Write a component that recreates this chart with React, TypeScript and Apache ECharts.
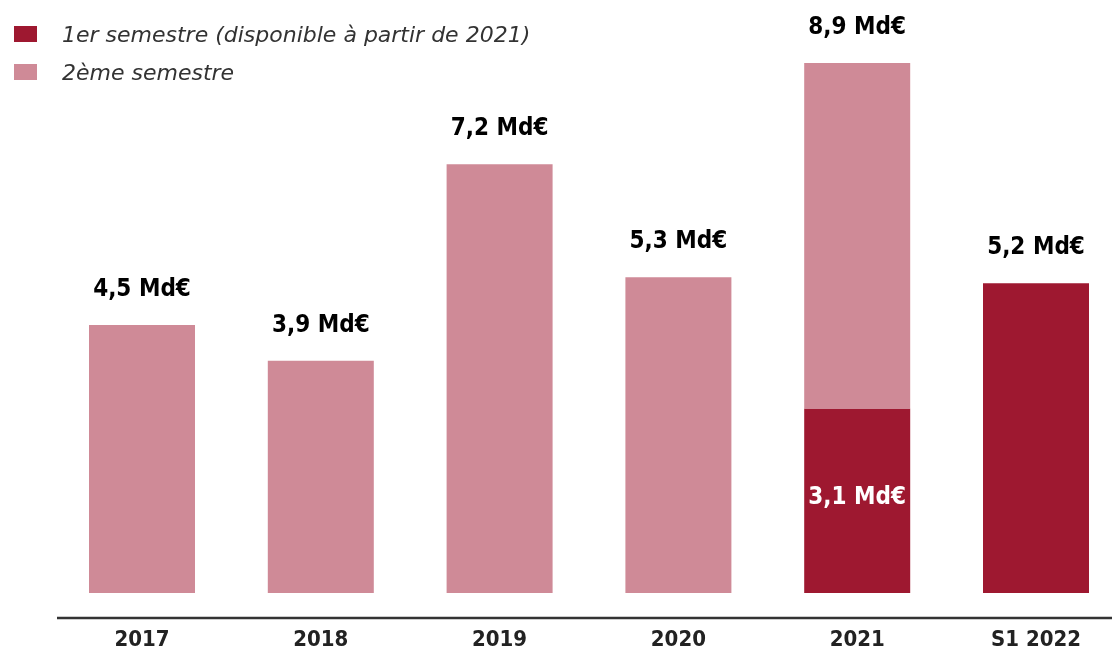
import React, { useEffect, useRef } from "react";
import * as echarts from "echarts";

const categories = ["2017", "2018", "2019", "2020", "2021", "S1 2022"];
const firstSemester = [null, null, null, null, 3.1, 5.2];
const secondSemester = [4.5, 3.9, 7.2, 5.3, 5.8, null];
const totals = [4.5, 3.9, 7.2, 5.3, 8.9, 5.2];
const seriesNames = ["1er semestre (disponible à partir de 2021)", "2ème semestre"];

const fmt = (v: number) => v.toFixed(1).replace(".", ",") + " Md€";

export default function App() {
  const ref = useRef<HTMLDivElement>(null);
  useEffect(() => {
    if (!ref.current) return;
    const chart = echarts.init(ref.current, null, { renderer: "svg" });
    const labelFont = {
      fontSize: 24,
      fontWeight: "bold",
      fontFamily: "DejaVu Sans Condensed",
    };
    const topLabel = (i: number) => ({
      show: true,
      position: "top",
      distance: 25,
      formatter: () => fmt(totals[i]),
      color: "#000",
      ...labelFont,
    });
    const firstData = firstSemester.map((v, i) => {
      if (v == null) return null;
      if (secondSemester[i] == null) return { value: v, label: topLabel(i) };
      return {
        value: v,
        label: {
          show: true,
          position: "inside",
          offset: [0, -5],
          formatter: () => fmt(v),
          color: "#fff",
          ...labelFont,
        },
      };
    });
    const secondData = secondSemester.map((v, i) =>
      v == null ? null : { value: v, label: topLabel(i) }
    );
    chart.setOption({
      animation: false,
      grid: { left: 142, right: 76, top: 57, bottom: 57 },
      legend: {
        orient: "vertical",
        left: 14,
        top: 23,
        padding: 0,
        itemWidth: 23,
        itemHeight: 16,
        itemGap: 16,
        icon: "rect",
        data: seriesNames,
        textStyle: {
          fontStyle: "italic",
          fontSize: 22,
          color: "#333",
          fontFamily: "DejaVu Sans",
          padding: [0, 0, 0, 20],
        },
      },
      xAxis: {
        type: "category",
        data: categories,
        boundaryGap: false,
        offset: 25,
        axisLine: { show: false },
        axisTick: { show: false },
        axisLabel: {
          margin: 9,
          color: "#222",
          fontSize: 22,
          fontWeight: "bold",
          fontFamily: "DejaVu Sans Condensed",
        },
      },
      yAxis: {
        type: "value",
        min: 0,
        max: 9,
        show: false,
        splitLine: { show: false },
      },
      graphic: [
        {
          type: "line",
          shape: { x1: 57, y1: 618, x2: 1112, y2: 618 },
          style: { stroke: "#333", lineWidth: 2.5 },
        },
      ],
      series: [
        {
          name: seriesNames[0],
          type: "bar",
          stack: "total",
          barWidth: 106,
          itemStyle: { color: "#9E1830" },
          data: firstData,
        },
        {
          name: seriesNames[1],
          type: "bar",
          stack: "total",
          barWidth: 106,
          itemStyle: { color: "#CF8A97" },
          data: secondData,
        },
      ],
    });
    return () => chart.dispose();
  }, []);
  return (
    <div
      ref={ref}
      style={{ position: "fixed", left: 0, top: 0, width: 1112, height: 650 }}
    />
  );
}
